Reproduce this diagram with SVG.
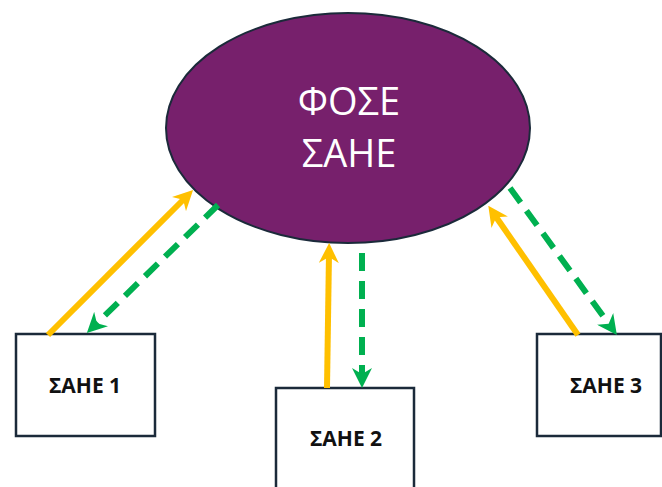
<svg xmlns="http://www.w3.org/2000/svg" width="662" height="487" viewBox="0 0 662 487">
<style>
.box{fill:#ffffff;stroke:#1b2a3a;stroke-width:2.5}
.lbl{font-family:"Open Sans","Noto Sans","DejaVu Sans",sans-serif;font-weight:700;font-size:21px;fill:#111111;text-anchor:middle}
.big{font-family:"Open Sans","Noto Sans","DejaVu Sans",sans-serif;font-size:38px;fill:#ffffff;text-anchor:middle}
.up{stroke:#FFC000;stroke-width:6;fill:none;marker-end:url(#hy)}
.down{stroke:#00B050;stroke-width:6;fill:none;stroke-dasharray:18 10;marker-end:url(#hg)}
</style>
<defs>
<marker id="hy" viewBox="0 0 20 20" refX="10" refY="10" markerWidth="20" markerHeight="20" markerUnits="userSpaceOnUse" orient="auto">
<path d="M0,0 L20,10 L0,20 L6,10 z" fill="#FFC000"/>
</marker>
<marker id="hg" viewBox="0 0 20 20" refX="10" refY="10" markerWidth="20" markerHeight="20" markerUnits="userSpaceOnUse" orient="auto">
<path d="M0,0 L20,10 L0,20 L6,10 z" fill="#00B050"/>
</marker>
</defs>
<g id="fose">
<ellipse cx="348" cy="128" rx="182" ry="115" fill="#77206C" stroke="#1b2a3a" stroke-width="2"/>
<text class="big" x="349" y="115">ΦΟΣΕ</text>
<text class="big" x="349" y="167">ΣΑΗΕ</text>
</g>
<g id="sahe1">
<rect class="box" x="16" y="334" width="139" height="102"/>
<text class="lbl" x="85" y="393">ΣΑΗΕ 1</text>
</g>
<g id="sahe2">
<rect class="box" x="276" y="388" width="138" height="110"/>
<text class="lbl" x="346" y="446">ΣΑΗΕ 2</text>
</g>
<g id="sahe3">
<rect class="box" x="537" y="334" width="124" height="102"/>
<text class="lbl" x="606" y="393">ΣΑΗΕ 3</text>
</g>
<g id="connectors">
<line class="up" x1="48" y1="335" x2="186" y2="197"/>
<line class="down" x1="218" y1="205" x2="94" y2="326"/>
<line class="up" x1="327" y1="388" x2="329" y2="253"/>
<line class="down" x1="362" y1="253" x2="362" y2="378"/>
<line class="up" x1="578" y1="335" x2="494" y2="214"/>
<line class="down" x1="510" y1="188" x2="611" y2="327"/>
</g>
</svg>
